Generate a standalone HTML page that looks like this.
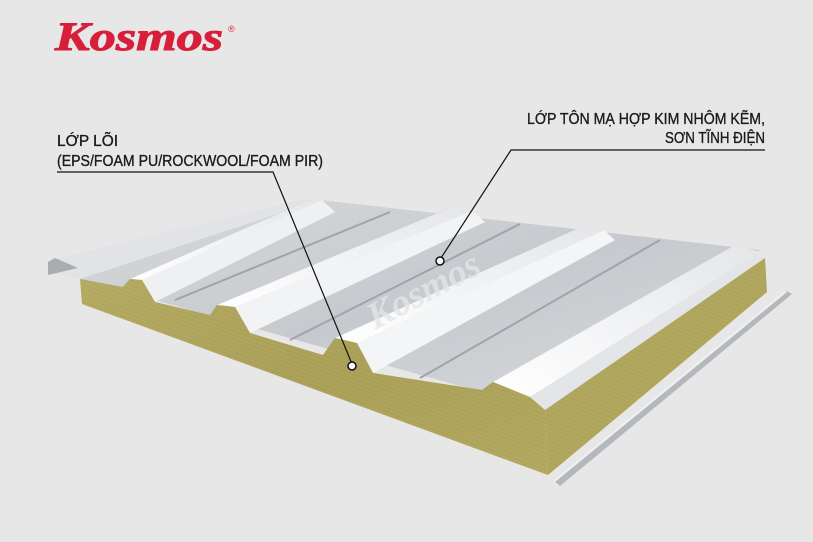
<!DOCTYPE html>
<html><head><meta charset="utf-8"><style>
html,body{margin:0;padding:0;background:#e7e7e7;}
svg{display:block;}
</style></head><body>
<svg width="813" height="542" viewBox="0 0 813 542" xmlns="http://www.w3.org/2000/svg">
<defs>
<linearGradient id="sheet" x1="0" y1="0" x2="1" y2="1">
<stop offset="0" stop-color="#d8dadd"/><stop offset="0.5" stop-color="#c6c9cd"/><stop offset="1" stop-color="#d9dbde"/>
</linearGradient>
<linearGradient id="ribtop" x1="0" y1="1" x2="1" y2="0">
<stop offset="0" stop-color="#ffffff"/><stop offset="1" stop-color="#e4e6e9"/>
</linearGradient>
<linearGradient id="foam" x1="0" y1="0" x2="1" y2="1">
<stop offset="0" stop-color="#b6ad64"/><stop offset="0.5" stop-color="#aaa158"/><stop offset="1" stop-color="#b3aa5f"/>
</linearGradient>
<pattern id="fib" width="6" height="4" patternUnits="userSpaceOnUse" patternTransform="rotate(20)">
<line x1="0" y1="1" x2="6" y2="1" stroke="#c59a6a" stroke-width="0.6" opacity="0.5"/><line x1="0" y1="3" x2="6" y2="3" stroke="#8f9a4a" stroke-width="0.6" opacity="0.5"/>
</pattern>
</defs>
<rect width="813" height="542" fill="#e7e7e7"/>
<text x="55" y="50" font-family="Liberation Serif, serif" font-weight="bold" font-style="italic" font-size="40" fill="#d81f3a" textLength="168" lengthAdjust="spacingAndGlyphs" stroke="#d81f3a" stroke-width="1">Kosmos</text>
<text x="228" y="32" font-family="Liberation Sans, sans-serif" font-size="9" fill="#d81f3a">®</text>

<polygon points="553,480 785,290 792,294 560,486" fill="#b4b7bb"/>
<polygon points="553,480 785,290 787,292 555,482" fill="#eeeff1"/>

<polygon points="48,268 300,205 320,200 760,250 545,410 80,279" fill="url(#sheet)"/>
<polygon points="48,262 60,258 300,200 320,200 80,279 48,272" fill="#e1e3e6"/>
<polygon points="48,262 55,258 78,268 48,275" fill="#a9acb1"/>

<polygon points="123,287 130,279 305,202 295,208" fill="#a3a7ac"/>
<polygon points="142,280 155,302 335,212 322,200" fill="#eef0f2"/>
<polygon points="130,279 142,280 322,200 305,202" fill="url(#ribtop)"/>

<polygon points="210,315 217,305 452,207 443,214" fill="#a3a7ac"/>
<polygon points="235,307 250,333 485,222 472,211" fill="#f2f3f5"/>
<polygon points="217,305 235,307 472,211 452,207" fill="url(#ribtop)"/>

<polygon points="323,355 335,338 583,226 572,234" fill="#a3a7ac"/>
<polygon points="357,343 373,373 615,240 604,230" fill="#f4f5f6"/>
<polygon points="335,338 357,343 604,230 583,226" fill="url(#ribtop)"/>

<polygon points="482,390 493,382 735,245 724,252" fill="#a3a7ac"/>
<polygon points="493,382 530,397 760,252 735,245" fill="url(#ribtop)"/>
<polygon points="530,397 545,410 765,258 760,252" fill="#e3e5e8"/>
<line x1="175" y1="300" x2="390" y2="212" stroke="#a0a4a9" stroke-width="2"/>
<line x1="290" y1="340" x2="520" y2="224" stroke="#a0a4a9" stroke-width="2"/>
<line x1="420" y1="378" x2="660" y2="240" stroke="#a0a4a9" stroke-width="2"/>

<polygon points="80,279 123,287 130,279 142,280 155,302 210,315 217,305 235,307 250,333 323,355 335,338 357,343 373,373 482,390 493,382 530,397 545,410 548,475 82,304" fill="url(#foam)"/>
<polygon points="80,279 123,287 130,279 142,280 155,302 210,315 217,305 235,307 250,333 323,355 335,338 357,343 373,373 482,390 493,382 530,397 545,410 548,475 82,304" fill="url(#fib)"/>
<polygon points="545,410 765,258 767,292 548,475" fill="#b0a85e"/>
<polygon points="545,410 765,258 767,292 548,475" fill="url(#fib)"/>

<text x="0" y="0" transform="translate(375,330) rotate(-28)" font-family="Liberation Serif, serif" font-weight="bold" font-style="italic" font-size="38" fill="#e4e5e7" opacity="0.8">Kosmos</text>

<g font-family="Liberation Sans, sans-serif" font-size="16" fill="#1a1a1a" stroke="#1a1a1a" stroke-width="0.35" lengthAdjust="spacingAndGlyphs">
<text x="57" y="146" textLength="61" lengthAdjust="spacingAndGlyphs">LỚP LÕI</text>
<text x="57" y="166" textLength="266" lengthAdjust="spacingAndGlyphs">(EPS/FOAM PU/ROCKWOOL/FOAM PIR)</text>
<text x="527" y="124" textLength="238" lengthAdjust="spacingAndGlyphs">LỚP TÔN MẠ HỢP KIM NHÔM KẼM,</text>
<text x="665" y="143" textLength="100" lengthAdjust="spacingAndGlyphs">SƠN TĨNH ĐIỆN</text>
</g>
<polyline points="57,172 273,172 352,364" fill="none" stroke="#111" stroke-width="1.2"/>
<polyline points="765,150 511,150 441,258" fill="none" stroke="#111" stroke-width="1.2"/>
<circle cx="352" cy="366" r="4" fill="#fff" stroke="#111" stroke-width="1.5"/>
<circle cx="440" cy="261" r="4" fill="#fff" stroke="#111" stroke-width="1.5"/>
</svg>
</body></html>
